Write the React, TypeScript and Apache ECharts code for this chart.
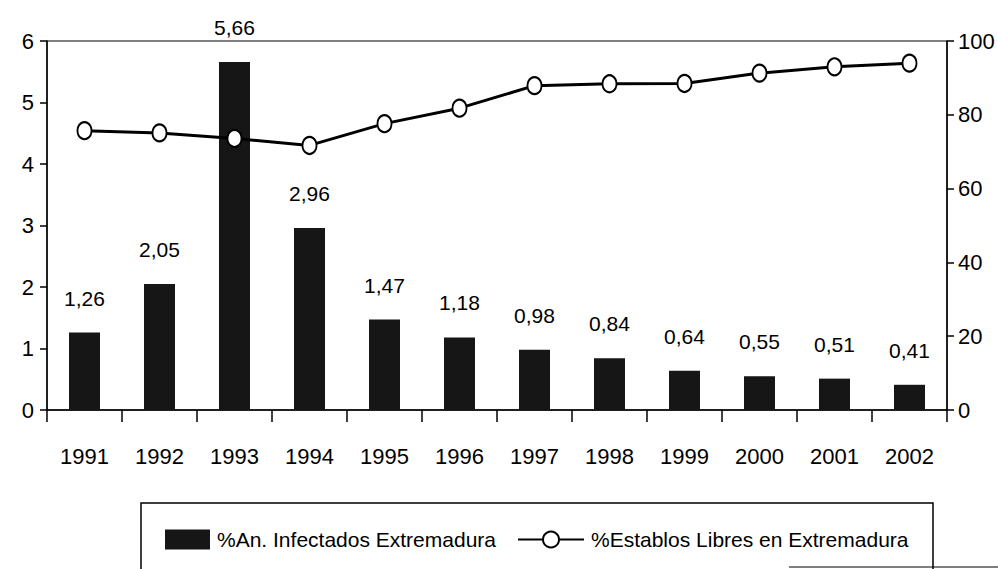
import React, { useEffect, useRef } from "react";
import * as echarts from "echarts";

const years = ["1991", "1992", "1993", "1994", "1995", "1996", "1997", "1998", "1999", "2000", "2001", "2002"];
const infectados = [1.26, 2.05, 5.66, 2.96, 1.47, 1.18, 0.98, 0.84, 0.64, 0.55, 0.51, 0.41];
const establosLibres = [75.7, 75.1, 73.6, 71.7, 77.6, 81.8, 87.9, 88.4, 88.5, 91.3, 93.0, 94.0];
const leftTicks = { min: 0, max: 6, interval: 1 };
const rightTicks = { min: 0, max: 100, interval: 20 };
const seriesNames = ["%An. Infectados Extremadura", "%Establos Libres en Extremadura"];

const FONT = "'Liberation Sans', Arial, sans-serif";

export default function App() {
  const ref = useRef<HTMLDivElement>(null);
  useEffect(() => {
    if (!ref.current) return;
    const chart = echarts.init(ref.current, null, { renderer: "svg" });
    chart.setOption({
      animation: false,
      backgroundColor: "#ffffff",
      textStyle: { fontFamily: FONT, color: "#000" },
      grid: {
        left: 47,
        right: 51,
        top: 41,
        bottom: 159,
        show: true,
        borderColor: "#000",
        borderWidth: 1,
      },
      legend: [
        {
          left: 160,
          top: 524,
          itemWidth: 45,
          itemHeight: 20,
          itemGap: 0,
          textStyle: { fontFamily: FONT, fontSize: 21, color: "#000", padding: [0, 0, 0, 2] },
          data: [{ name: seriesNames[0], icon: "rect" }],
        },
        {
          left: 512,
          top: 524,
          itemWidth: 66,
          itemHeight: 20,
          itemGap: 0,
          textStyle: { fontFamily: FONT, fontSize: 21, color: "#000", padding: [0, 0, 0, 2] },
          data: [{ name: seriesNames[1] }],
        },
      ],
      xAxis: {
        type: "category",
        data: years,
        boundaryGap: true,
        axisLine: { lineStyle: { color: "#000", width: 1.5 } },
        axisTick: { show: true, length: 12, lineStyle: { color: "#000", width: 1.5 } },
        axisLabel: { color: "#000", fontSize: 22, fontFamily: FONT, margin: 35 },
      },
      yAxis: [
        {
          type: "value",
          min: leftTicks.min,
          max: leftTicks.max,
          interval: leftTicks.interval,
          splitLine: { show: false },
          axisLine: { show: true, lineStyle: { color: "#000", width: 1.5 } },
          axisTick: { show: true, length: 7, lineStyle: { color: "#000", width: 1.5 } },
          axisLabel: { color: "#000", fontSize: 22, fontFamily: FONT, margin: 13 },
        },
        {
          type: "value",
          min: rightTicks.min,
          max: rightTicks.max,
          interval: rightTicks.interval,
          position: "right",
          splitLine: { show: false },
          axisLine: { show: true, lineStyle: { color: "#000", width: 1.5 } },
          axisTick: { show: true, length: 7, lineStyle: { color: "#000", width: 1.5 } },
          axisLabel: { color: "#000", fontSize: 22, fontFamily: FONT, margin: 11 },
        },
      ],
      series: [
        {
          name: seriesNames[0],
          type: "bar",
          yAxisIndex: 0,
          data: infectados,
          barWidth: 31,
          itemStyle: { color: "#161616" },
          label: {
            show: true,
            position: "top",
            distance: 24,
            color: "#000",
            fontSize: 21,
            fontFamily: FONT,
            formatter: (p: any) => Number(p.value).toFixed(2).replace(".", ","),
          },
          z: 2,
        },
        {
          name: seriesNames[1],
          type: "line",
          yAxisIndex: 1,
          data: establosLibres,
          symbol: "circle",
          symbolSize: [14, 17],
          lineStyle: { color: "#000", width: 3 },
          itemStyle: { color: "#fff", borderColor: "#000", borderWidth: 2 },
          z: 3,
        },
      ],
      graphic: [
        {
          type: "rect",
          shape: { x: 141, y: 503, width: 792, height: 90 },
          style: { fill: "none", stroke: "#000", lineWidth: 1.5 },
          silent: true,
        },
        {
          type: "line",
          shape: { x1: 789, y1: 567, x2: 998, y2: 567 },
          style: { stroke: "#000", lineWidth: 1 },
          silent: true,
        },
      ],
    });
    return () => chart.dispose();
  }, []);
  return <div ref={ref} style={{ position: "fixed", left: 0, top: 0, width: 998, height: 569 }} />;
}
